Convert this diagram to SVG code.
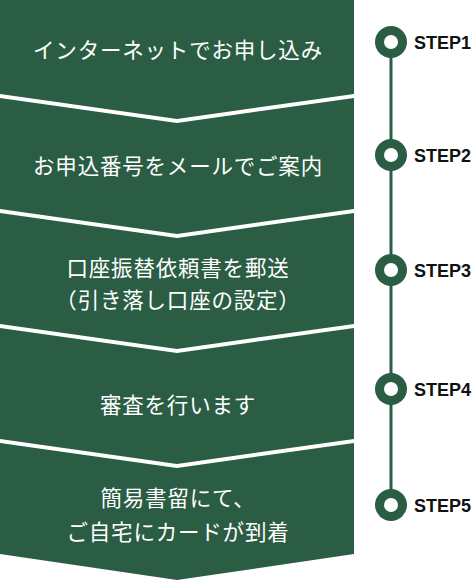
<svg xmlns="http://www.w3.org/2000/svg" width="476" height="580" viewBox="0 0 476 580">
<style>
.blk{fill:#2a5d44}
.t{fill:#fff;font-family:"Noto Sans CJK JP","Noto Sans",sans-serif;font-size:21.5px;letter-spacing:0.8px;text-anchor:middle}
.ring{fill:#2a5d44}
.hole{fill:#fff}
.lbl{fill:#111;font-family:"Liberation Sans",Arial,sans-serif;font-weight:bold;font-size:18px}
</style>
<g id="connectors">
<line x1="391" y1="42" x2="391" y2="506" stroke="#2a5d44" stroke-width="3"/>
</g>
<g id="step1">
<polygon class="blk" points="0,0 354,0 354,94 177,119 0,94"/>
<text class="t" x="178" y="58">インターネットでお申し込み</text>
</g>
<g id="step2">
<polygon class="blk" points="0,98 177,123 354,98 354,209 177,234 0,209"/>
<text class="t" x="178" y="174">お申込番号をメールでご案内</text>
</g>
<g id="step3">
<polygon class="blk" points="0,213 177,238 354,213 354,324 177,349 0,324"/>
<text class="t" x="178" y="276">口座振替依頼書を郵送</text>
<text class="t" x="178" y="308">（引き落し口座の設定）</text>
</g>
<g id="step4">
<polygon class="blk" points="0,328 177,353 354,328 354,439 177,464 0,439"/>
<text class="t" x="178" y="413">審査を行います</text>
</g>
<g id="step5">
<polygon class="blk" points="0,443 177,468 354,443 354,554 177,580 0,554"/>
<text class="t" x="178" y="506">簡易書留にて、</text>
<text class="t" x="178" y="540">ご自宅にカードが到着</text>
</g>
<g id="marker1"><circle class="ring" cx="391" cy="42" r="16"/><circle class="hole" cx="391" cy="42" r="7"/><text class="lbl" x="414" y="49">STEP1</text></g>
<g id="marker2"><circle class="ring" cx="391" cy="155" r="16"/><circle class="hole" cx="391" cy="155" r="7"/><text class="lbl" x="414" y="162">STEP2</text></g>
<g id="marker3"><circle class="ring" cx="391" cy="270" r="16"/><circle class="hole" cx="391" cy="270" r="7"/><text class="lbl" x="414" y="277">STEP3</text></g>
<g id="marker4"><circle class="ring" cx="391" cy="389" r="16"/><circle class="hole" cx="391" cy="389" r="7"/><text class="lbl" x="414" y="396">STEP4</text></g>
<g id="marker5"><circle class="ring" cx="391" cy="505" r="16"/><circle class="hole" cx="391" cy="505" r="7"/><text class="lbl" x="414" y="512">STEP5</text></g>
</svg>
